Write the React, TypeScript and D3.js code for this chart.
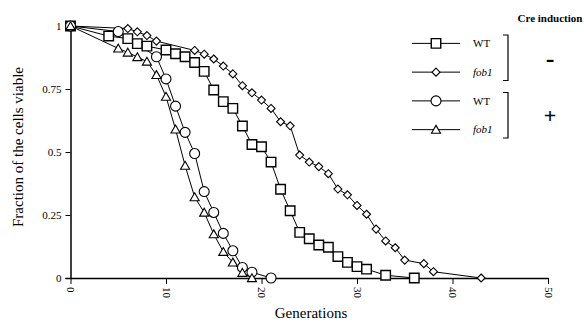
import React, { useEffect, useRef } from "react";
import * as d3 from "d3";

// generations / fraction viable
const wtMinusGen = [0, 4, 6, 7, 8, 10, 11, 12, 13, 14, 15, 16, 17, 18, 19, 20, 21, 22, 23, 24, 25, 26, 27, 28, 29, 30, 31, 33, 36];
const wtMinusVal = [1, 0.96, 0.95, 0.93, 0.92, 0.905, 0.89, 0.878, 0.855, 0.82, 0.746, 0.7, 0.673, 0.603, 0.53, 0.521, 0.46, 0.352, 0.267, 0.181, 0.156, 0.131, 0.122, 0.085, 0.062, 0.045, 0.035, 0.011, 0];

const fobMinusGen = [0, 6, 7, 8, 9, 13, 14, 15, 16, 17, 18, 19, 20, 21, 22, 23, 24, 25, 26, 27, 28, 29, 30, 31, 32, 33, 34, 35, 37, 38, 43];
const fobMinusVal = [1, 0.99, 0.977, 0.962, 0.94, 0.903, 0.888, 0.869, 0.841, 0.81, 0.763, 0.735, 0.706, 0.673, 0.62, 0.604, 0.488, 0.46, 0.442, 0.414, 0.353, 0.33, 0.288, 0.253, 0.194, 0.147, 0.12, 0.071, 0.057, 0.025, 0];

const wtPlusGen = [0, 5, 9, 10, 11, 12, 13, 14, 15, 16, 17, 18, 19, 21];
const wtPlusVal = [1, 0.978, 0.878, 0.79, 0.682, 0.578, 0.494, 0.343, 0.26, 0.177, 0.108, 0.042, 0.023, 0];

const fobPlusGen = [0, 5, 6, 7, 8, 9, 10, 11, 12, 13, 14, 15, 16, 17, 18, 19];
const fobPlusVal = [1, 0.911, 0.895, 0.877, 0.859, 0.806, 0.72, 0.59, 0.446, 0.321, 0.26, 0.174, 0.104, 0.062, 0.021, 0];

const xTicks = [0, 10, 20, 30, 40, 50];
const yTicks = [0, 0.25, 0.5, 0.75, 1];
const yTickLabels = ["0", "0.25", "0.5", "0.75", "1"];

const legendLabels = ["WT", "fob1", "WT", "fob1"];
const groupSigns = ["-", "+"];

const serif = "'Liberation Serif', 'Times New Roman', serif";

export default function App() {
  const ref = useRef<SVGSVGElement>(null);

  useEffect(() => {
    const width = 584, height = 322;
    const svg = d3.select(ref.current);
    svg.selectAll("*").remove();
    svg.attr("width", width).attr("height", height).style("font-family", serif);

    const x = d3.scaleLinear().domain([0, 50]).range([70.5, 548]);
    const y = d3.scaleLinear().domain([0, 1]).range([278, 26]);

    const series = [
      { gen: wtMinusGen, val: wtMinusVal, shape: "square" },
      { gen: fobMinusGen, val: fobMinusVal, shape: "diamond" },
      { gen: wtPlusGen, val: wtPlusVal, shape: "circle" },
      { gen: fobPlusGen, val: fobPlusVal, shape: "triangle" },
    ];

    const symbolPath = (shape: string) => {
      if (shape === "square") return d3.symbol(d3.symbolSquare, 90)();
      if (shape === "diamond") return "M0,-4L4,0L0,4L-4,0Z";
      if (shape === "circle") return d3.symbol(d3.symbolCircle, 78)();
      return d3.symbol(d3.symbolTriangle, 36)();
    };

    // axes
    const yAxis = svg.append("g")
      .attr("transform", `translate(${x(0)},0)`)
      .call(d3.axisLeft(y).tickValues(yTicks).tickSize(5).tickPadding(4)
        .tickFormat((d, i) => yTickLabels[i]));
    yAxis.attr("font-family", null);
    yAxis.select(".domain").attr("stroke-width", 1.5);
    yAxis.selectAll("text").style("font-family", serif).attr("font-size", 11).attr("fill", "#000");

    const xAxis = svg.append("g")
      .attr("transform", `translate(0,${y(0)})`)
      .call(d3.axisBottom(x).tickValues(xTicks).tickSize(6).tickSizeOuter(0));
    xAxis.attr("font-family", null);
    xAxis.select(".domain").attr("stroke-width", 1.5);
    xAxis.selectAll("text")
      .style("font-family", serif).attr("font-size", 11).attr("fill", "#000")
      .attr("transform", "rotate(90)")
      .attr("x", 9).attr("y", 0).attr("dy", "0.35em")
      .attr("text-anchor", "start");

    // connecting lines
    series.forEach(s => {
      const pts: [number, number][] = s.gen.map((g, i) => [x(g), y(s.val[i])]);
      svg.append("path")
        .attr("d", d3.line()(pts))
        .attr("fill", "none")
        .attr("stroke", "#000")
        .attr("stroke-width", 1);
    });

    // markers
    series.forEach(s => {
      svg.append("g").selectAll("path")
        .data(s.gen.map((g, i) => ({ g, v: s.val[i] })))
        .enter()
        .append("path")
        .attr("transform", d => `translate(${x(d.g)},${y(d.v) + (s.shape === "triangle" ? 1 : 0)})`)
        .attr("d", symbolPath(s.shape))
        .attr("fill", "#fff")
        .attr("stroke", "#000")
        .attr("stroke-width", s.shape === "square" ? 1.4 : 1.1);
    });

    // axis titles
    svg.append("text")
      .attr("transform", `translate(23,147) rotate(-90)`)
      .attr("text-anchor", "middle")
      .attr("font-size", 15)
      .text("Fraction of the cells viable");

    svg.append("text")
      .attr("x", 311).attr("y", 318)
      .attr("text-anchor", "middle")
      .attr("font-size", 15)
      .text("Generations");

    // legend
    const legY = d3.scaleBand<number>().domain([0, 1, 2, 3]).range([29, 144]);
    const lg = svg.append("g");
    lg.append("text")
      .attr("x", 550).attr("y", 22).attr("text-anchor", "middle")
      .attr("font-size", 11).attr("font-weight", "bold")
      .text("Cre induction");

    series.forEach((s, i) => {
      const cy = legY(i)! + legY.bandwidth() / 2;
      lg.append("line")
        .attr("x1", 412).attr("x2", 460).attr("y1", cy).attr("y2", cy)
        .attr("stroke", "#000").attr("stroke-width", 1);
      lg.append("path")
        .attr("transform", `translate(436,${cy + (s.shape === "triangle" ? 1 : 0)})`)
        .attr("d", symbolPath(s.shape))
        .attr("fill", "#fff").attr("stroke", "#000")
        .attr("stroke-width", s.shape === "square" ? 1.4 : 1.1);
      lg.append("text")
        .attr("x", 473).attr("y", cy).attr("dy", "0.35em")
        .attr("font-size", 11)
        .attr("font-style", legendLabels[i] === "fob1" ? "italic" : "normal")
        .text(legendLabels[i]);
    });

    groupSigns.forEach((sign, gi) => {
      const top = legY(gi * 2)! + 6;
      const bottom = legY(gi * 2 + 1)! + legY.bandwidth() - 6;
      lg.append("path")
        .attr("d", `M503,${top}H508V${bottom}H503`)
        .attr("fill", "none").attr("stroke", "#000").attr("stroke-width", 1.2);
      lg.append("text")
        .attr("x", 550).attr("y", (top + bottom) / 2).attr("dy", "0.35em")
        .attr("text-anchor", "middle")
        .attr("font-size", sign === "-" ? 26 : 22).attr("font-weight", "bold")
        .text(sign);
    });
  }, []);

  return (
    <div style={{ position: "absolute", left: 0, top: 0 }}>
      <svg ref={ref}></svg>
    </div>
  );
}
